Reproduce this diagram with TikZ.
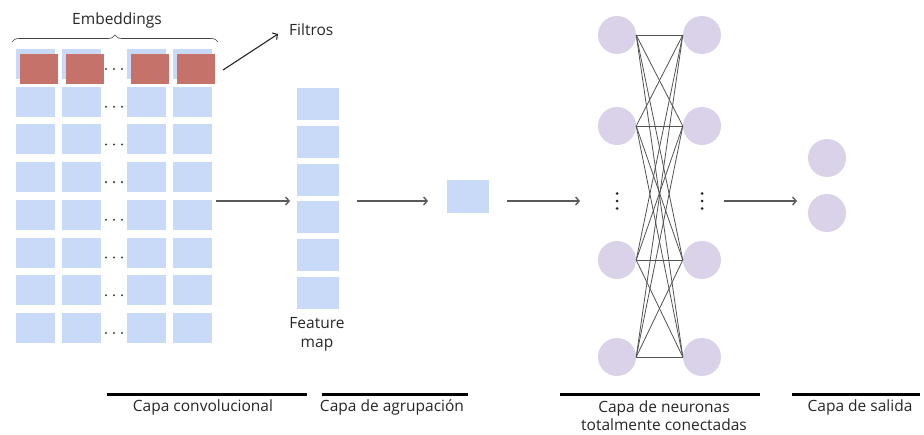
\documentclass[tikz,border=0pt]{standalone}
\usepackage{fontspec}
\setmainfont{Open Sans}
\usetikzlibrary{arrows.meta,decorations.pathreplacing}
\definecolor{cellblue}{HTML}{C9DAF8}
\definecolor{filterred}{HTML}{C5736A}
\definecolor{neuron}{HTML}{D9D2E9}
\definecolor{arrowgray}{HTML}{5A5A5A}
\begin{document}
\begin{tikzpicture}[x=1pt,y=-1pt,
  cell/.style={rectangle,fill=cellblue,inner sep=0pt,minimum width=39pt,minimum height=30pt},
  fmcell/.style={rectangle,fill=cellblue,inner sep=0pt,minimum width=42pt,minimum height=32pt},
  filter/.style={rectangle,fill=filterred,inner sep=0pt,minimum width=38pt,minimum height=30pt},
  neu/.style={circle,fill=neuron,inner sep=0pt,minimum size=38pt},
  lbl/.style={font=\fontsize{15.5}{17.5}\selectfont,text=black!85,inner sep=0pt,align=center},
  flow/.style={draw=arrowgray,line width=1.4pt,-{Straight Barb[length=3.5pt,width=8pt]}},
  layerbar/.style={line width=3pt,black},
  edge/.style={draw=black!68,line width=0.8pt},
  dot/.style={circle,fill=black!85,inner sep=0pt,minimum size=3pt},
  gdot/.style={circle,fill=black!75,inner sep=0pt,minimum size=2.3pt}]
\useasboundingbox (0,0) rectangle (924,434);

% embedding matrix: 8 rows x 4 columns, with ellipses between columns 2 and 3
\foreach \r in {0,...,7}{
  \foreach \c/\x in {1/35.5,2/81.5,3/146.5,4/192.5}{
    \node[cell] (e-\r-\c) at (\x,{64+37.7*\r}) {};
  }
  \node[gdot] (d1-\r) at (106,{69+37.7*\r}) {};
  \node[gdot] (d2-\r) at (114,{69+37.7*\r}) {};
  \node[gdot] (d3-\r) at (122,{69+37.7*\r}) {};
}
% filters over the first row
\foreach \c/\x in {1/39,2/85,3/150,4/196}{
  \node[filter] (f-\c) at (\x,69) {};
}
% brace and label
\coordinate (brl) at (12,42);
\coordinate (brr) at (218,42);
\draw[black!75,line width=0.6pt,decorate,decoration={brace,amplitude=7pt}] (brl) -- (brr);
\node[lbl] (emb) at (117,20) {Embeddings};
% filters pointer
\node[lbl,anchor=west] (filt) at (289,30) {Filtros};
\coordinate (fstart) at (223,70);
\coordinate (fend) at (278,34);
\draw[black!85,line width=1.1pt,-{Straight Barb[length=3.5pt,width=8pt]}] (fstart) -- (fend);

% feature map column
\foreach \r in {0,...,5}{
  \node[fmcell] (fm-\r) at (318,{104+37.8*\r}) {};
}
\node[lbl,font=\fontsize{15.5}{19}\selectfont] (fmtext) at (317,334) {Feature\\map};

% pooled value
\node[rectangle,fill=cellblue,inner sep=0pt,minimum width=42pt,minimum height=33pt] (pool) at (468,196.5) {};

% fully connected layer
\foreach \i/\y in {1/35,2/126,3/260,4/357}{
  \node[neu] (l\i) at (617,\y) {};
  \node[neu] (r\i) at (702,\y) {};
}
\foreach \i in {1,...,4}{
  \foreach \j in {1,...,4}{
    \draw[edge] (l\i.east) -- (r\j.west);
  }
}
\foreach \x/\n in {617/l,702/r}{
  \node[dot] (\n v1) at (\x,193.5) {};
  \node[dot] (\n v2) at (\x,201) {};
  \node[dot] (\n v3) at (\x,208.5) {};
}

% output layer
\node[neu] (o1) at (827,158) {};
\node[neu] (o2) at (827,213) {};

% flow arrows between stages
\coordinate (a1s) at (216,201); \coordinate (a1e) at (290,201);
\coordinate (a2s) at (357,201); \coordinate (a2e) at (428,201);
\coordinate (a3s) at (507,201); \coordinate (a3e) at (580,201);
\coordinate (a4s) at (724,201); \coordinate (a4e) at (797,201);
\draw[flow] (a1s) -- (a1e);
\draw[flow] (a2s) -- (a2e);
\draw[flow] (a3s) -- (a3e);
\draw[flow] (a4s) -- (a4e);

% stage labels
\coordinate (b1l) at (107,394); \coordinate (b1r) at (307,394);
\coordinate (b2l) at (322,394); \coordinate (b2r) at (468,394);
\coordinate (b3l) at (560,394); \coordinate (b3r) at (760,394);
\coordinate (b4l) at (792,394); \coordinate (b4r) at (920,394);
\draw[layerbar] (b1l) -- (b1r);
\draw[layerbar] (b2l) -- (b2r);
\draw[layerbar] (b3l) -- (b3r);
\draw[layerbar] (b4l) -- (b4r);
\node[lbl] (t1) at (203,407) {Capa convolucional};
\node[lbl] (t2) at (392,407) {Capa de agrupación};
\node[lbl] (t3) at (664,415.5) {Capa de neuronas\\totalmente conectadas};
\node[lbl] (t4) at (860,407) {Capa de salida};
\end{tikzpicture}
\end{document}
